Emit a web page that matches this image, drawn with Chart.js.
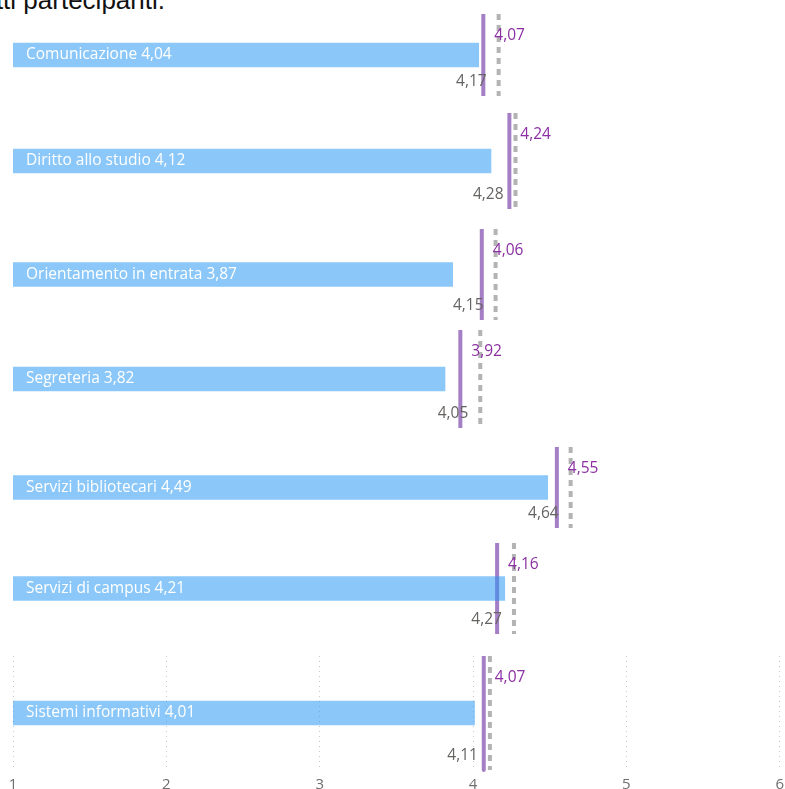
<!DOCTYPE html>
<html>
<head>
<meta charset="utf-8">
<script src="https://cdn.jsdelivr.net/npm/chart.js@4"></script>
<style>
  html, body { margin: 0; padding: 0; background: #fff; overflow: hidden; }
  body { width: 785px; height: 789px; position: relative; }
  .caption {
    position: absolute; right: 620px; top: -13px; white-space: nowrap;
    font: 26px/26px "Liberation Sans", Arial, sans-serif; color: #111;
  }
  .panel { position: absolute; left: 0; }
</style>
</head>
<body>
<div class="caption">Valutazione media di tutti partecipanti.</div>
<div id="panels"></div>
<script>
// one small chart per service area, all sharing the same 1-6 scale
const areas = ['Comunicazione', 'Diritto allo studio', 'Orientamento in entrata', 'Segreteria',
  'Servizi bibliotecari', 'Servizi di campus', 'Sistemi informativi'];
const scores = [4.04, 4.12, 3.87, 3.82, 4.49, 4.21, 4.01];
const refPurple = [4.07, 4.24, 4.06, 3.92, 4.55, 4.16, 4.07];
const refGray = [4.17, 4.28, 4.15, 4.05, 4.64, 4.27, 4.11];
const scaleMin = 1;
const scaleMax = 6;

// panel placement (top and plot height in px)
const panelTop = [14, 113, 229, 330, 447, 543, 656];
const panelHeight = [82, 96, 91, 98, 81, 91, 112];
const axisHeight = 32;

const fmt = v => v.toFixed(2).replace('.', ',');
const FONT = '"Segoe UI", "Open Sans", sans-serif';

const rowText = {
  id: 'rowText',
  afterDatasetsDraw(chart, args, opts) {
    const i = opts.row;
    const { ctx, chartArea } = chart;
    const xs = chart.scales.x, ys = chart.scales.y;
    ctx.save();
    ctx.font = '15.5px ' + FONT;
    ctx.textBaseline = 'middle';

    ctx.fillStyle = '#ffffff';
    ctx.textAlign = 'left';
    ctx.fillText(areas[i] + ' ' + fmt(scores[i]), xs.getPixelForValue(scaleMin) + 13, ys.getPixelForValue(0));

    ctx.fillStyle = '#8b2fa3';
    ctx.fillText(fmt(refPurple[i]), xs.getPixelForValue(refPurple[i]) + 11, chartArea.top + 22);

    ctx.fillStyle = '#666462';
    ctx.textAlign = 'right';
    ctx.fillText(fmt(refGray[i]), xs.getPixelForValue(refGray[i]) - 12, chartArea.bottom - 14);
    ctx.restore();
  }
};

const holder = document.getElementById('panels');

areas.forEach((name, i) => {
  const last = i === areas.length - 1;
  const div = document.createElement('div');
  div.className = 'panel';
  div.style.top = panelTop[i] + 'px';
  const canvas = document.createElement('canvas');
  // the axis panel is a little wider so the last tick label can run off the edge
  canvas.width = last ? 790 : 785;
  canvas.height = panelHeight[i] + (last ? axisHeight : 0);
  div.appendChild(canvas);
  holder.appendChild(div);

  new Chart(canvas.getContext('2d'), {
    type: 'bar',
    data: {
      datasets: [
        {
          type: 'bar',
          indexAxis: 'y',
          data: [{ y: 0, x: [scaleMin, scores[i]] }],
          backgroundColor: 'rgba(33, 150, 243, 0.52)',
          barThickness: 24,
          order: 0
        },
        {
          type: 'line',
          data: [{ x: refPurple[i], y: -1 }, { x: refPurple[i], y: 1 }],
          borderColor: '#a57fc6',
          borderWidth: 4,
          borderCapStyle: 'round',
          pointRadius: 0,
          fill: false,
          clip: false,
          order: 1
        },
        {
          type: 'line',
          data: [{ x: refGray[i], y: -1 }, { x: refGray[i], y: 1 }],
          borderColor: '#b3b3b3',
          borderWidth: 4,
          borderDash: [6, 5],
          pointRadius: 0,
          fill: false,
          clip: false,
          order: 2
        }
      ]
    },
    options: {
      responsive: false,
      animation: false,
      devicePixelRatio: 1,
      layout: { padding: { left: 13, right: 6, top: 0, bottom: 0 } },
      scales: {
        x: {
          type: 'linear',
          min: scaleMin,
          max: scaleMax,
          offset: false,
          display: last,
          border: { display: false, dash: [1, 4] },
          grid: {
            offset: false,
            color: '#c8c8c8',
            lineWidth: 1,
            drawTicks: false
          },
          ticks: {
            stepSize: 1,
            padding: 6,
            color: '#6f6f6f',
            font: { family: FONT, size: 15 }
          }
        },
        y: {
          type: 'linear',
          min: -1,
          max: 1,
          offset: false,
          reverse: true,
          display: false
        }
      },
      plugins: {
        legend: { display: false },
        tooltip: { enabled: false },
        rowText: { row: i }
      }
    },
    plugins: [rowText]
  });
});
</script>
</body>
</html>
